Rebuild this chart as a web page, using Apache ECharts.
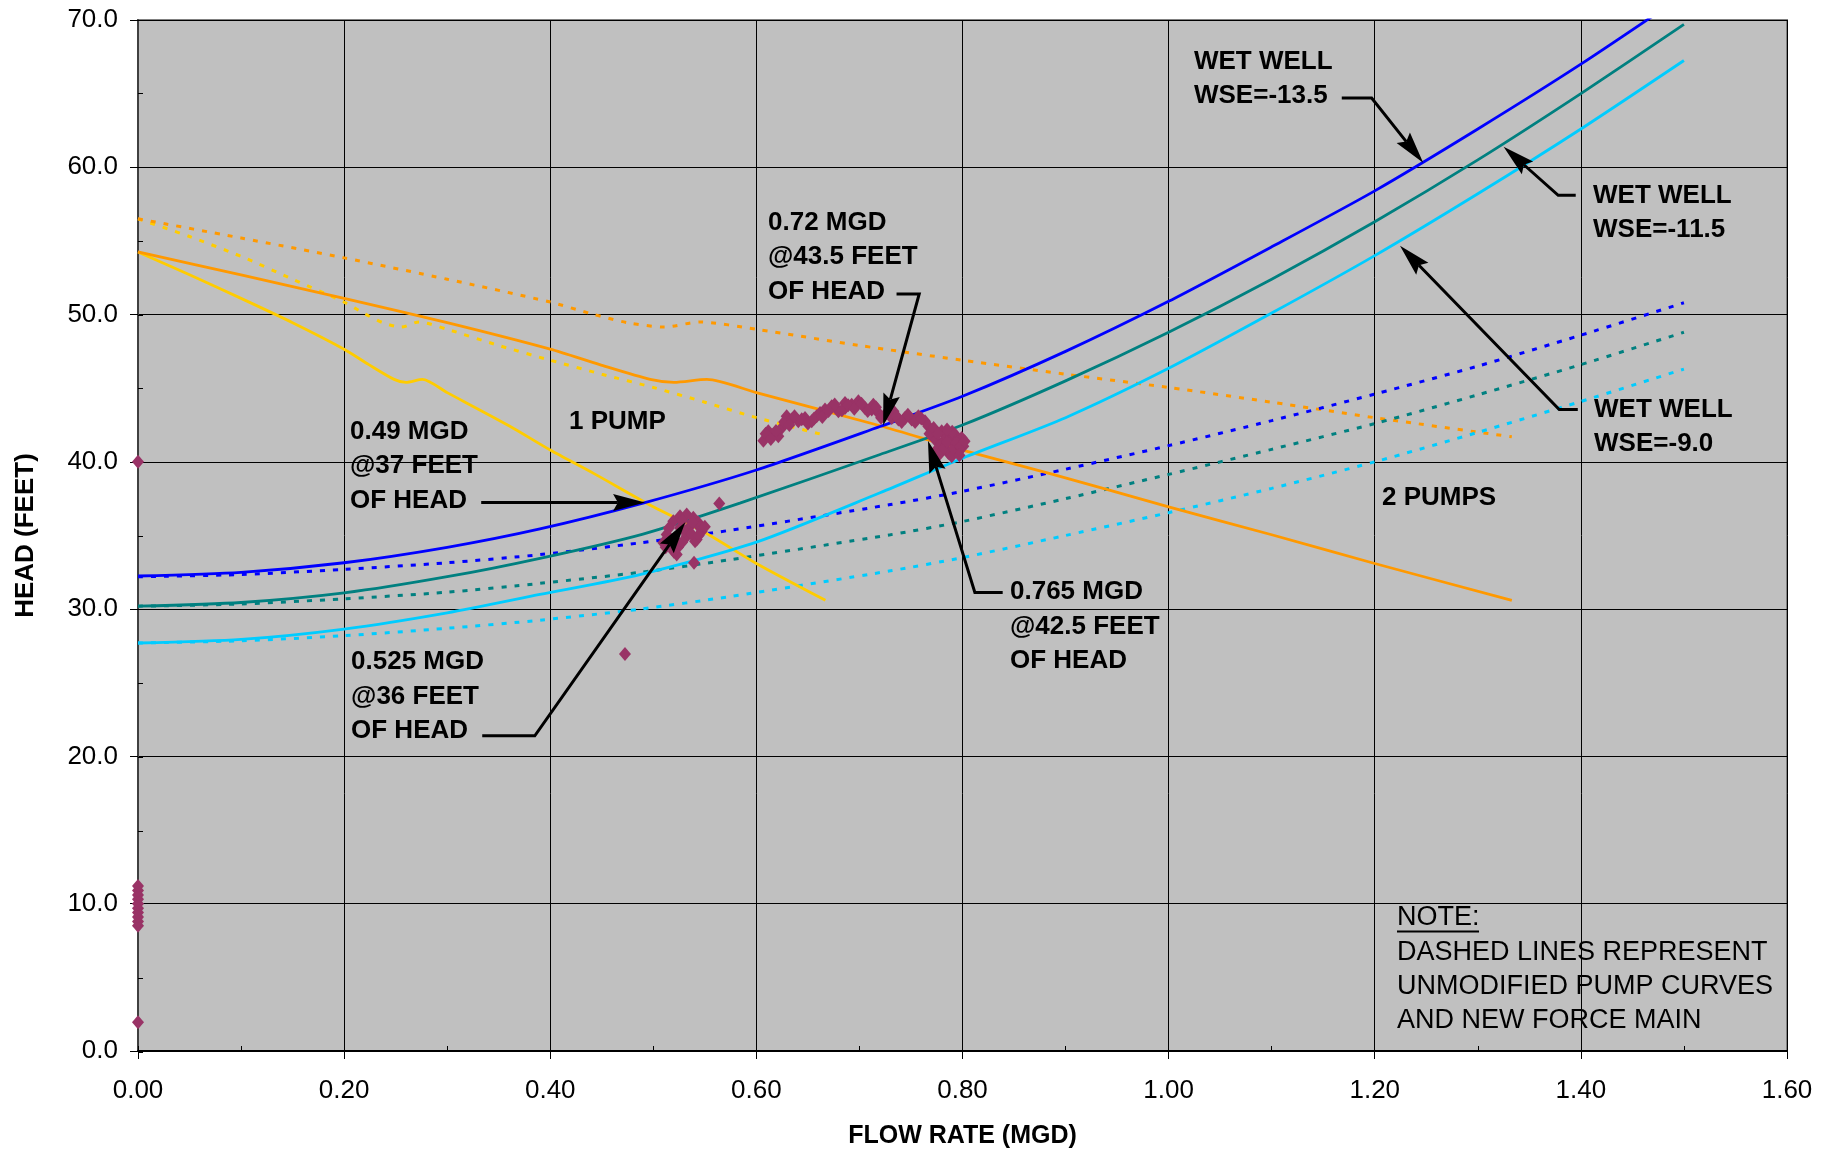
<!DOCTYPE html>
<html>
<head>
<meta charset="utf-8">
<title>Pump and system curves</title>
<script src="https://cdn.jsdelivr.net/npm/echarts@6/dist/echarts.min.js"></script>
<style>
  html, body { margin: 0; padding: 0; background: #ffffff; }
  #chart { width: 1837px; height: 1154px; }
</style>
</head>
<body>
<div id="chart"></div>
<script>
// system curves, new force main (solid) - [flow MGD, head ft]
var wse135 = [[0, 32.25], [0.1, 32.5], [0.2, 33.15], [0.3, 34.2], [0.39, 35.45], [0.49, 37.2], [0.6, 39.45], [0.72, 42.4], [0.8, 44.45], [0.9, 47.5], [1.0, 50.9], [1.1, 54.6], [1.2, 58.4], [1.3, 62.6], [1.4, 67.0], [1.5, 71.7]];
var wse115 = [[0, 30.2], [0.1, 30.45], [0.2, 31.1], [0.3, 32.2], [0.39, 33.45], [0.49, 35.1], [0.584, 37.2], [0.72, 40.5], [0.8, 42.5], [0.9, 45.5], [1.0, 48.8], [1.1, 52.4], [1.2, 56.3], [1.3, 60.5], [1.4, 65.0], [1.5, 69.7]];
var wse90 = [[0, 27.7], [0.1, 27.95], [0.2, 28.65], [0.3, 29.75], [0.39, 31.0], [0.487, 32.35], [0.6, 34.55], [0.72, 37.9], [0.8, 40.25], [0.9, 43.0], [1.0, 46.35], [1.1, 50.1], [1.2, 54.0], [1.3, 58.2], [1.4, 62.6], [1.5, 67.25]];

// system curves, unmodified (dashed)
var wse135Old = [[0, 32.2], [0.1, 32.35], [0.2, 32.7], [0.3, 33.15], [0.39, 33.7], [0.487, 34.5], [0.574, 35.35], [0.73, 37.1], [0.8, 38.0], [0.9, 39.5], [1.0, 41.1], [1.1, 42.8], [1.2, 44.6], [1.3, 46.5], [1.4, 48.6], [1.5, 50.8]];
var wse115Old = [[0, 30.2], [0.1, 30.35], [0.2, 30.7], [0.3, 31.15], [0.39, 31.75], [0.487, 32.5], [0.574, 33.35], [0.73, 35.05], [0.8, 35.95], [0.9, 37.5], [1.0, 39.15], [1.1, 40.85], [1.2, 42.6], [1.3, 44.55], [1.4, 46.6], [1.5, 48.8]];
var wse90Old = [[0, 27.7], [0.1, 27.85], [0.2, 28.2], [0.3, 28.7], [0.39, 29.25], [0.487, 30.0], [0.574, 30.85], [0.73, 32.6], [0.8, 33.5], [0.9, 35.0], [1.0, 36.55], [1.1, 38.2], [1.2, 40.0], [1.3, 42.0], [1.4, 44.1], [1.5, 46.3]];

// pump curves
var twoPumps = [[0, 54.25], [0.1, 52.7], [0.2, 51.1], [0.3, 49.45], [0.4, 47.65], [0.448, 46.6], [0.497, 45.6], [0.52, 45.4], [0.552, 45.6], [0.6, 44.7], [0.72, 42.45], [0.8, 40.8], [0.885, 39.2], [1.0, 36.95], [1.1, 35.05], [1.2, 33.1], [1.333, 30.6]];
var onePump = [[0, 54.25], [0.05, 52.7], [0.1, 51.1], [0.15, 49.45], [0.2, 47.65], [0.224, 46.6], [0.2485, 45.6], [0.26, 45.4], [0.276, 45.6], [0.3, 44.7], [0.36, 42.45], [0.4, 40.8], [0.4425, 39.2], [0.5, 36.95], [0.55, 35.2], [0.6, 33.1], [0.667, 30.6]];
var twoPumpsOld = [[0, 56.5], [0.1, 55.2], [0.2, 53.85], [0.3, 52.4], [0.4, 50.85], [0.44, 50.05], [0.475, 49.45], [0.511, 49.15], [0.545, 49.5], [0.6, 49.0], [0.7, 47.9], [0.8, 46.9], [0.9, 45.95], [1.0, 45.05], [1.1, 44.05], [1.2, 43.0], [1.333, 41.7]];
var onePumpOld = [[0, 56.5], [0.05, 55.3], [0.1, 53.95], [0.15, 52.4], [0.2, 50.85], [0.22, 50.05], [0.2375, 49.45], [0.2555, 49.15], [0.2725, 49.5], [0.3, 49.0], [0.35, 47.9], [0.4, 46.9], [0.45, 45.95], [0.5, 45.05], [0.55, 44.05], [0.6, 43.0], [0.667, 41.8]];

// measured operating points
var measured = [
  [0, 40.0], [0, 1.95],
  [0, 8.5], [0, 8.8], [0, 9.1], [0, 9.4], [0, 9.7], [0, 10.0], [0, 10.3], [0, 10.6], [0, 10.9], [0, 11.2],
  [0.4725, 26.95], [0.5395, 33.15], [0.564, 37.17],
  [0.5194, 35.97], [0.5259, 36.31], [0.5324, 36.42], [0.5388, 36.2], [0.5437, 35.86], [0.547, 35.29],
  [0.5421, 34.73], [0.5324, 34.95], [0.5259, 35.52], [0.5356, 35.63], [0.513, 35.07], [0.5097, 34.5],
  [0.5178, 34.27], [0.5227, 33.71], [0.521, 34.73], [0.5405, 34.61], [0.5453, 35.52],
  [0.515, 35.5], [0.528, 36.0], [0.538, 35.9], [0.53, 35.3], [0.537, 35.1], [0.544, 35.0],
  [0.516, 34.7], [0.524, 34.2], [0.52, 33.9], [0.528, 34.55], [0.55, 35.6], [0.512, 34.2],
  [0.6068, 41.44], [0.6116, 42.08], [0.6165, 41.85], [0.6213, 41.74], [0.6245, 42.3], [0.6294, 43.09],
  [0.6342, 42.87], [0.6407, 42.76], [0.6472, 42.98], [0.6537, 42.76], [0.6585, 43.09], [0.6618, 43.32],
  [0.6666, 43.55], [0.6731, 43.77], [0.6796, 43.43], [0.686, 43.66], [0.686, 44.0], [0.6925, 43.88],
  [0.699, 44.11], [0.7054, 43.66], [0.7119, 43.55], [0.7135, 43.88], [0.7184, 43.32], [0.7248, 43.2],
  [0.7313, 42.98], [0.733, 43.43], [0.7378, 42.87], [0.7442, 42.98], [0.7507, 42.87], [0.7572, 43.09],
  [0.7636, 42.76], [0.7668, 42.42], [0.7701, 42.08], [0.7733, 41.51], [0.775, 40.83], [0.7798, 41.28],
  [0.7798, 42.08], [0.783, 41.85], [0.7863, 40.6], [0.7879, 41.51], [0.7895, 40.38], [0.7927, 41.85],
  [0.796, 40.71], [0.7992, 41.62], [0.8008, 41.06],
  [0.609, 41.9], [0.614, 41.55], [0.619, 42.1], [0.627, 42.7], [0.632, 42.5], [0.637, 43.1],
  [0.644, 42.9], [0.65, 42.6], [0.656, 42.95], [0.664, 43.05], [0.67, 43.45], [0.676, 43.9],
  [0.683, 43.5], [0.689, 43.85], [0.695, 43.6], [0.702, 43.95], [0.708, 43.45], [0.716, 43.7],
  [0.721, 43.0], [0.728, 43.35], [0.736, 43.1], [0.741, 42.7], [0.747, 43.2], [0.754, 42.7],
  [0.76, 42.95], [0.768, 41.9], [0.772, 42.3], [0.776, 41.9], [0.778, 40.55], [0.782, 40.95],
  [0.785, 41.35], [0.791, 40.9], [0.794, 41.3], [0.798, 41.05], [0.797, 40.45], [0.802, 41.4],
  [0.79, 42.05], [0.785, 42.2]
];

// annotations (data coordinates of text top-left corner)
var noteText = [
  'WET WELL\nWSE=-13.5', 'WET WELL\nWSE=-11.5', 'WET WELL\nWSE=-9.0', '2 PUMPS', '1 PUMP',
  '0.49 MGD\n@37 FEET\nOF HEAD', '0.525 MGD\n@36 FEET\nOF HEAD', '0.72 MGD\n@43.5 FEET\nOF HEAD',
  '0.765 MGD\n@42.5 FEET\nOF HEAD'
];
var noteAt = [[1.0246, 68.34], [1.4118, 59.25], [1.4128, 44.73], [1.207, 38.76], [0.4182, 43.92],
  [0.2057, 43.24], [0.2067, 27.57], [0.6113, 57.42], [0.8461, 32.32]];
var arrowPaths = [
  [[1.168, 64.7], [1.197, 64.7], [1.247, 60.3]],
  [[1.395, 58.1], [1.378, 58.1], [1.325, 61.4]],
  [[1.397, 43.55], [1.379, 43.55], [1.2245, 54.67]],
  [[0.333, 37.24], [0.492, 37.24]],
  [[0.334, 21.4], [0.385, 21.4], [0.531, 35.9]],
  [[0.736, 51.4], [0.758, 51.4], [0.723, 42.46]],
  [[0.839, 31.13], [0.812, 31.13], [0.7665, 41.44]]
];
var footNoteTitle = 'NOTE:';
var footNoteBody = 'DASHED LINES REPRESENT\nUNMODIFIED PUMP CURVES\nAND NEW FORCE MAIN';
var footNoteAt = [1.2216, 10.21];

var FONT = '"Liberation Sans", Arial, sans-serif';

var chartDom = document.getElementById('chart');
var myChart = echarts.init(chartDom);

function curve(name, data, color, dashed) {
  return {
    name: name,
    type: 'line',
    data: data,
    symbol: 'none',
    smooth: 0.25,
    lineStyle: {
      color: color,
      width: dashed ? 3 : 2.8,
      type: dashed ? [5, 8] : 'solid'
    },
    z: 3
  };
}

var option = {
  animation: false,
  grid: [
    {
      left: 138, right: 50, top: 20, bottom: 102,
      show: true,
      backgroundColor: '#c0c0c0',
      borderColor: '#808080',
      borderWidth: 2
    },
    { left: 138, right: 50, top: 20, bottom: 102, show: false }
  ],
  xAxis: [
    {
      type: 'value',
      gridIndex: 0,
      min: 0,
      max: 1.6,
      interval: 0.2,
      name: 'FLOW RATE (MGD)',
      nameLocation: 'middle',
      nameGap: 73,
      nameTextStyle: { color: '#000', fontSize: 25, fontWeight: 'bold', fontFamily: FONT },
      axisLine: { show: true, onZero: false, lineStyle: { color: '#000', width: 2 } },
      axisTick: { show: true, length: 8, lineStyle: { color: '#000', width: 1 } },
      axisLabel: {
        formatter: function (v) { return v.toFixed(2); },
        color: '#000', fontSize: 26, fontFamily: FONT, margin: 27,
        showMinLabel: true, showMaxLabel: true
      },
      splitLine: { show: true, lineStyle: { color: '#000', width: 1 } }
    },
    {
      // minor ticks, inside
      type: 'value',
      gridIndex: 1,
      min: 0,
      max: 1.6,
      interval: 0.1,
      axisLine: { show: false },
      axisTick: { show: true, inside: true, length: 6, lineStyle: { color: '#000', width: 1 } },
      axisLabel: { show: false },
      splitLine: { show: false }
    }
  ],
  yAxis: [
    {
      type: 'value',
      gridIndex: 0,
      min: 0,
      max: 70,
      interval: 10,
      name: 'HEAD (FEET)',
      nameLocation: 'middle',
      nameGap: 99,
      nameTextStyle: { color: '#000', fontSize: 26, fontWeight: 'bold', fontFamily: FONT },
      axisLine: { show: true, onZero: false, lineStyle: { color: '#404040', width: 2 } },
      axisTick: { show: true, length: 8, lineStyle: { color: '#000', width: 1 } },
      axisLabel: {
        formatter: function (v) { return v.toFixed(1); },
        color: '#000', fontSize: 26, fontFamily: FONT, margin: 20,
        showMinLabel: true, showMaxLabel: true
      },
      splitLine: { show: true, lineStyle: { color: '#000', width: 1 } }
    },
    {
      type: 'value',
      gridIndex: 1,
      min: 0,
      max: 70,
      interval: 5,
      axisLine: { show: false },
      axisTick: { show: true, inside: true, length: 5, lineStyle: { color: '#000', width: 1 } },
      axisLabel: { show: false },
      splitLine: { show: false }
    }
  ],
  series: [
    curve('1 Pump unmodified', onePumpOld, '#ffcc00', true),
    curve('2 Pumps unmodified', twoPumpsOld, '#ff9900', true),
    curve('WSE -13.5 unmodified', wse135Old, '#0000ff', true),
    curve('WSE -11.5 unmodified', wse115Old, '#008080', true),
    curve('WSE -9.0 unmodified', wse90Old, '#00ccff', true),
    curve('1 Pump', onePump, '#ffcc00', false),
    curve('2 Pumps', twoPumps, '#ff9900', false),
    curve('WSE -13.5', wse135, '#0000ff', false),
    curve('WSE -11.5', wse115, '#008080', false),
    curve('WSE -9.0', wse90, '#00ccff', false),
    {
      name: 'Measured',
      type: 'scatter',
      data: measured,
      symbol: 'diamond',
      symbolSize: [12, 14],
      itemStyle: { color: '#993366', opacity: 1 },
      z: 4
    }
  ]
};

myChart.setOption(option);

function toPx(pt) {
  return myChart.convertToPixel({ gridIndex: 0 }, pt);
}

function arrowGraphics(path) {
  var p = path.map(toPx);
  var tip = p[p.length - 1];
  var prev = p[p.length - 2];
  var dx = tip[0] - prev[0], dy = tip[1] - prev[1];
  var len = Math.sqrt(dx * dx + dy * dy);
  var ux = dx / len, uy = dy / len;
  var nx = -uy, ny = ux;
  var L = 32, W = 17;
  var bx = tip[0] - ux * L, by = tip[1] - uy * L;
  var notch = [tip[0] - ux * L * 0.85, tip[1] - uy * L * 0.85];
  var shaft = p.slice(0, -1).concat([notch]);
  return [
    {
      type: 'polyline',
      shape: { points: shaft },
      style: { stroke: '#000', lineWidth: 3, fill: null },
      z: 100
    },
    {
      type: 'polygon',
      shape: { points: [tip, [bx + nx * W / 2, by + ny * W / 2], notch, [bx - nx * W / 2, by - ny * W / 2]] },
      style: { fill: '#000' },
      z: 100
    }
  ];
}

function buildGraphics() {
  var elements = [];
  noteText.forEach(function (t, i) {
    var p = toPx(noteAt[i]);
    elements.push({
      type: 'text',
      x: p[0],
      y: p[1],
      style: {
        text: t,
        fill: '#000',
        font: 'bold 26px ' + FONT,
        lineHeight: 34.5,
        align: 'left',
        verticalAlign: 'top'
      },
      z: 100
    });
  });
  arrowPaths.forEach(function (path) {
    elements = elements.concat(arrowGraphics(path));
  });
  var f = toPx(footNoteAt);
  elements.push({
    type: 'text',
    x: f[0],
    y: f[1],
    style: {
      text: footNoteTitle + '\n' + footNoteBody,
      fill: '#000',
      font: '27px ' + FONT,
      lineHeight: 34.3,
      align: 'left',
      verticalAlign: 'top'
    },
    z: 100
  });
  // underline under NOTE:
  elements.push({
    type: 'line',
    shape: { x1: f[0], y1: f[1] + 31, x2: f[0] + 82, y2: f[1] + 31 },
    style: { stroke: '#000', lineWidth: 2 },
    z: 100
  });
  myChart.setOption({ graphic: { elements: elements } });
}

buildGraphics();

window.addEventListener('resize', function () {
  myChart.resize();
  buildGraphics();
});
</script>
</body>
</html>
